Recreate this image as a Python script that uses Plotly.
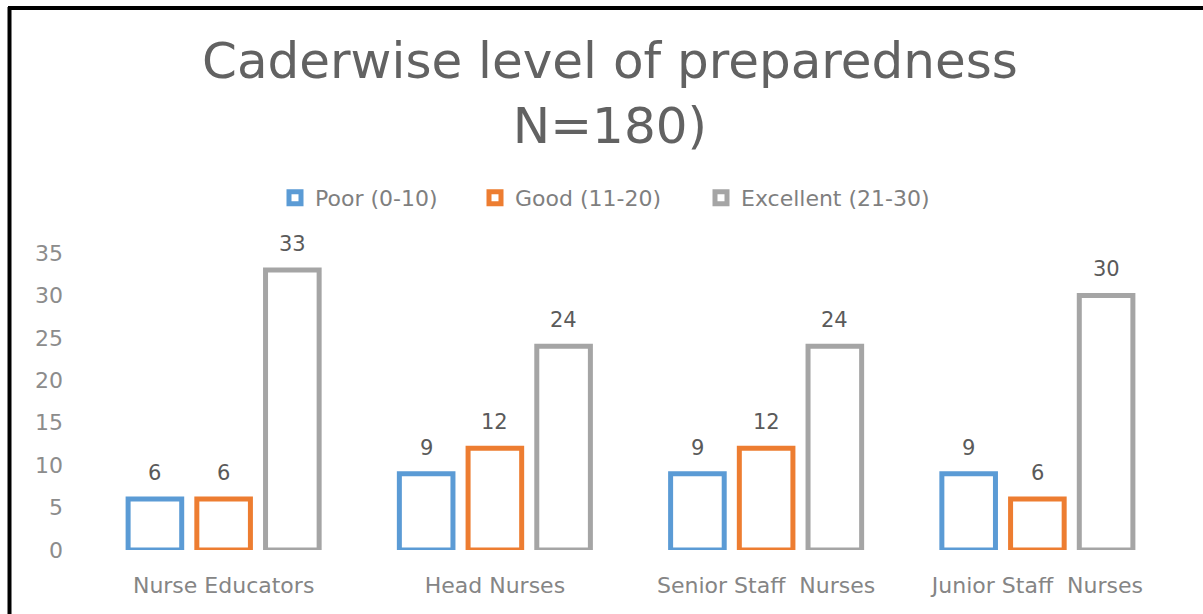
import plotly.graph_objects as go

categories = ["Nurse Educators", "Head Nurses", "Senior Staff\u00a0 Nurses", "Junior Staff\u00a0 Nurses"]
poor = [6, 9, 9, 9]
good = [6, 12, 12, 6]
excellent = [33, 24, 24, 30]
series_names = ["Poor (0-10)", "Good (11-20)", "Excellent (21-30)"]
colors = ["#5B9BD5", "#ED7D31", "#A5A5A5"]
tick_vals = [0, 5, 10, 15, 20, 25, 30, 35]

W, H = 1203, 614
L, R, T, B = 88, 30, 253, 64
pw, ph = W - L - R, H - T - B

def px_x(x):
    return (x - L) / pw

def px_y(y):
    return (H - B - y) / ph

FONT = "DejaVu Sans"
BARGAP = 0.24
SLOT_PX = pw / len(categories) * (1 - BARGAP) / len(series_names)
legend_ids = ["legend", "legend2", "legend3"]
legend_left_px = [275, 475, 701]

fig = go.Figure()
for i, (name, vals, c) in enumerate(zip(series_names, [poor, good, excellent], colors)):
    fig.add_trace(go.Bar(
        x=categories, y=vals, name=name, legend=legend_ids[i],
        marker=dict(color="white", line=dict(color=c, width=5)),
    ))
    for cat, v in zip(categories, vals):
        fig.add_annotation(x=cat, y=v, text=str(v), showarrow=False, xref="x", yref="y",
                           xanchor="center", yanchor="bottom",
                           xshift=(i - 1) * SLOT_PX, yshift=12,
                           font=dict(family=FONT, size=21, color="#5A5A5A"))

legend_style = dict(orientation="h", xanchor="left", y=px_y(198), yanchor="middle",
                    font=dict(family=FONT, size=22, color="#7F7F7F"), itemwidth=30,
                    itemclick=False, bgcolor="rgba(0,0,0,0)")

fig.update_layout(
    width=W, height=H,
    margin=dict(l=L, r=R, t=T, b=B),
    paper_bgcolor="white", plot_bgcolor="white",
    barmode="group", bargap=BARGAP, bargroupgap=0.22,
    font=dict(family=FONT, color="#7F7F7F"),
    showlegend=True,
    xaxis=dict(showgrid=False, showline=False, zeroline=False, ticks="",
               tickfont=dict(family=FONT, size=22, color="#858585"), ticklabelstandoff=20),
    yaxis=dict(range=[0, 35], tickvals=tick_vals, showgrid=False, showline=False, zeroline=False,
               ticks="", tickfont=dict(family=FONT, size=22, color="#8C8C8C"), ticklabelstandoff=24),
)
for lid, lx in zip(legend_ids, legend_left_px):
    fig.update_layout({lid: dict(x=px_x(lx), **legend_style)})

fig.add_annotation(text="Caderwise level of preparedness<br>N=180)", xref="paper", yref="paper",
                   x=px_x(610), y=px_y(93), xanchor="center", yanchor="middle", showarrow=False,
                   font=dict(family=FONT, size=50, color="#626262"))

fig.add_shape(type="line", xref="paper", yref="paper", x0=px_x(9.5), x1=px_x(9.5), y0=px_y(7), y1=px_y(620),
              line=dict(color="black", width=4))
fig.add_shape(type="line", xref="paper", yref="paper", x0=px_x(8), x1=px_x(1210), y0=px_y(8), y1=px_y(8),
              line=dict(color="black", width=4))

fig.write_html("out.html", config={"displayModeBar": False},
               post_script="document.body.style.margin='0';")
